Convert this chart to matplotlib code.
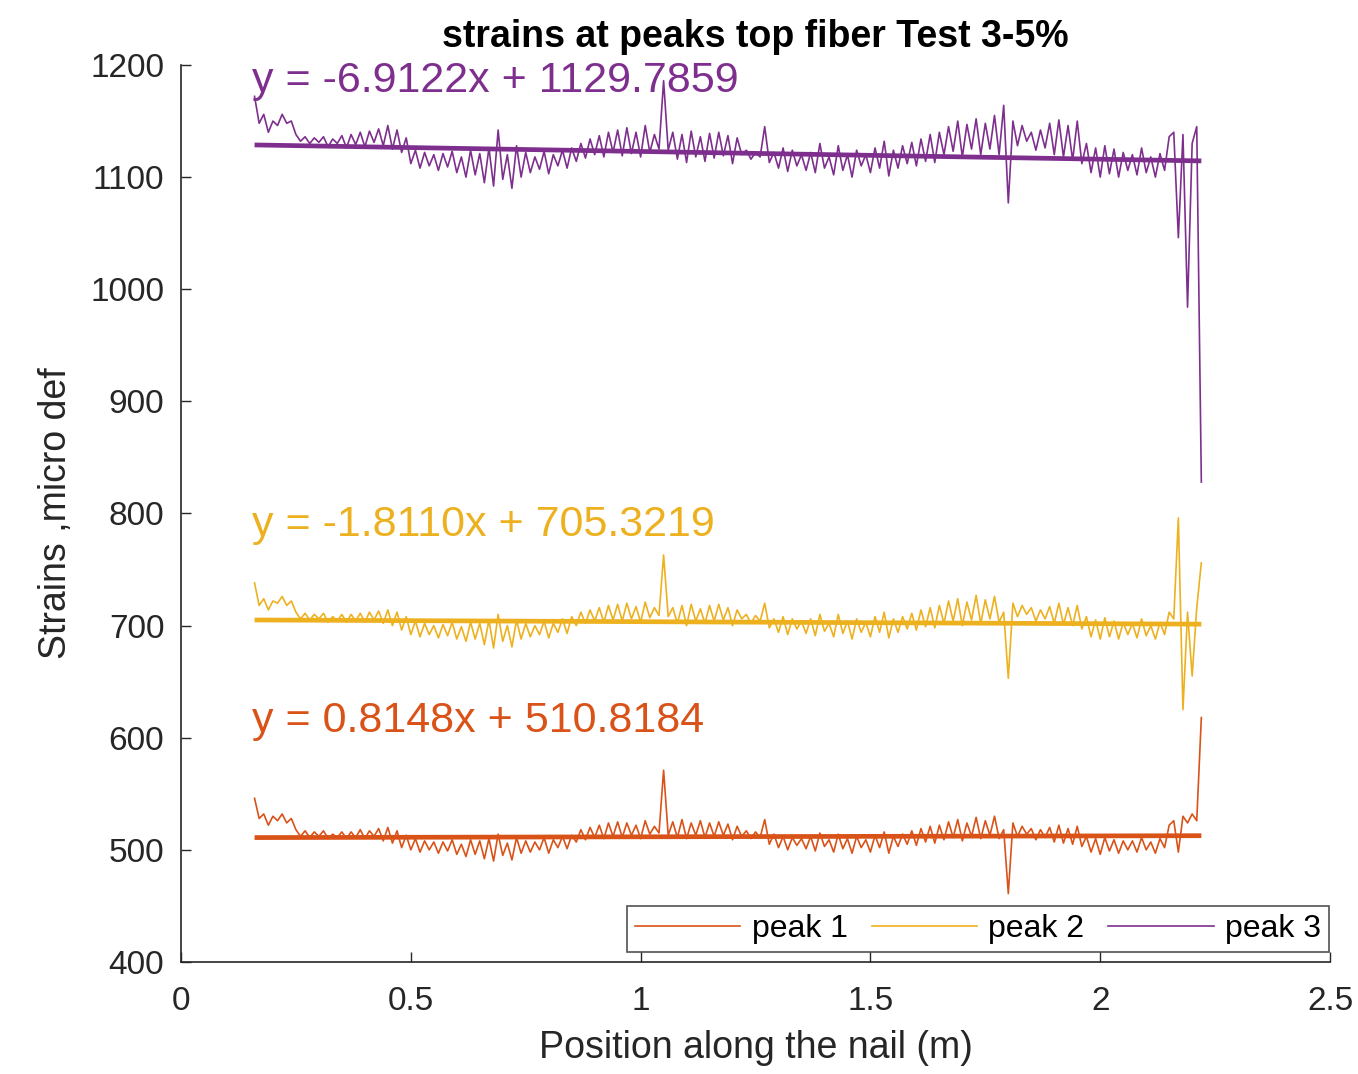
import numpy as np
import matplotlib.pyplot as plt

plt.rcParams['font.family'] = ['Liberation Sans', 'DejaVu Sans']

# strain readings along the fiber, one value every 1 cm from 0.16 m to 2.22 m
peak1 = [
    546, 528, 532, 522, 530, 526, 532, 524, 528, 518,
    512, 517, 511, 516, 512, 517, 510, 514, 511, 516,
    510, 516, 511, 518, 510, 517, 512, 519, 508, 520,
    506, 517, 502, 513, 500, 510, 498, 508, 500, 507,
    497, 507, 499, 509, 496, 505, 494, 509, 496, 508,
    492, 510, 490, 514, 495, 506, 491, 511, 497, 508,
    498, 507, 500, 511, 497, 509, 502, 512, 501, 513,
    507, 518, 509, 520, 511, 522, 510, 524, 512, 525,
    511, 524, 513, 522, 510, 526, 514, 521, 515, 571,
    513, 525, 511, 527, 510, 524, 513, 526, 511, 524,
    512, 525, 513, 523, 509, 521, 512, 517, 510, 516,
    511, 527, 505, 514, 502, 512, 500, 511, 504, 510,
    501, 512, 499, 515, 503, 509, 498, 514, 501, 510,
    497, 512, 502, 509, 498, 513, 502, 516, 497, 512,
    503, 514, 505, 517, 504, 519, 507, 521, 506, 522,
    509, 525, 511, 527, 508, 524, 512, 529, 510, 526,
    513, 530, 510, 518, 461, 524, 512, 521, 514, 519,
    509, 518, 511, 520, 507, 522, 506, 519, 505, 521,
    503, 512, 498, 510, 496, 511, 499, 509, 497, 508,
    500, 508, 498, 511, 500, 507, 497, 510, 502, 522,
    526, 498, 530, 524, 532, 526, 618,
]
peak2 = [
    738, 718, 724, 714, 722, 720, 726, 718, 722, 712,
    706, 711, 705, 710, 706, 711, 703, 708, 704, 710,
    703, 710, 704, 711, 703, 712, 705, 713, 702, 714,
    700, 712, 696, 708, 692, 704, 690, 702, 692, 700,
    689, 701, 691, 703, 688, 699, 686, 703, 688, 702,
    683, 705, 680, 710, 686, 700, 681, 705, 688, 702,
    690, 700, 692, 704, 689, 702, 694, 706, 693, 708,
    700, 712, 702, 714, 704, 716, 703, 718, 705, 719,
    704, 720, 706, 717, 703, 721, 707, 716, 709, 763,
    708, 716, 702, 718, 700, 719, 704, 715, 702, 718,
    704, 719, 705, 716, 700, 714, 706, 710, 702, 709,
    704, 720, 698, 706, 694, 708, 692, 706, 697, 704,
    693, 706, 691, 710, 695, 702, 690, 710, 693, 704,
    688, 706, 694, 703, 690, 708, 694, 712, 689, 706,
    694, 708, 697, 711, 696, 714, 699, 716, 698, 718,
    702, 722, 704, 724, 700, 721, 705, 727, 702, 723,
    706, 726, 703, 712, 653, 720, 708, 718, 710, 716,
    704, 714, 706, 717, 702, 720, 701, 716, 700, 718,
    697, 708, 690, 705, 688, 707, 690, 704, 688, 703,
    692, 702, 689, 706, 691, 700, 688, 703, 692, 712,
    706, 796, 625, 712, 655, 716, 756,
]
peak3 = [
    1172, 1148, 1156, 1140, 1150, 1146, 1156, 1148, 1150, 1138,
    1132, 1136, 1130, 1135, 1131, 1136, 1127, 1134, 1130, 1137,
    1126, 1138, 1129, 1140, 1127, 1141, 1131, 1143, 1128, 1146,
    1125, 1142, 1122, 1135, 1112, 1124, 1108, 1122, 1110, 1120,
    1106, 1121, 1109, 1123, 1104, 1118, 1100, 1124, 1102, 1121,
    1095, 1126, 1092, 1142, 1098, 1120, 1090, 1128, 1100, 1122,
    1104, 1118, 1107, 1123, 1103, 1120, 1110, 1124, 1108, 1126,
    1114, 1130, 1117, 1134, 1120, 1137, 1118, 1140, 1122, 1142,
    1119, 1144, 1121, 1140, 1118, 1146, 1122, 1138, 1125, 1186,
    1124, 1140, 1116, 1138, 1113, 1141, 1118, 1136, 1114, 1139,
    1117, 1140, 1119, 1137, 1112, 1135, 1120, 1124, 1116, 1122,
    1118, 1145, 1113, 1122, 1108, 1126, 1105, 1124, 1110, 1120,
    1106, 1122, 1104, 1130, 1108, 1118, 1102, 1128, 1106, 1120,
    1100, 1124, 1110, 1120, 1104, 1126, 1108, 1132, 1101, 1124,
    1108, 1128, 1112, 1131, 1110, 1134, 1114, 1138, 1113, 1140,
    1120, 1145, 1123, 1150, 1118, 1147, 1125, 1152, 1120, 1148,
    1125, 1155, 1120, 1164, 1077, 1150, 1128, 1146, 1132, 1140,
    1124, 1142, 1126, 1148, 1120, 1151, 1118, 1146, 1115, 1150,
    1112, 1130, 1104, 1126, 1100, 1128, 1103, 1125, 1100, 1122,
    1106, 1120, 1102, 1126, 1104, 1118, 1100, 1121, 1106, 1136,
    1140, 1046, 1138, 984, 1130, 1145, 828,
]
position = np.linspace(0.16, 2.22, len(peak1))

labels = ['peak 1', 'peak 2', 'peak 3']
colors = ['#D95319', '#EDB120', '#7E2F8E']
# linear fit coefficients (slope, intercept) for each peak
slopes = [0.8148, -1.8110, -6.9122]
intercepts = [510.8184, 705.3219, 1129.7859]
eq_y = [615, 790, 1186]

fig = plt.figure(figsize=(13.58, 10.74), dpi=100)
ax = fig.add_axes([0.1333, 0.1043, 0.8461, 0.8352])

for vals, lab, col in zip([peak1, peak2, peak3], labels, colors):
    ax.plot(position, vals, color=col, lw=1.2, label=lab)

for m, b, col, ty in zip(slopes, intercepts, colors, eq_y):
    xf = np.array([position[0], position[-1]])
    ax.plot(xf, m * xf + b, color=col, lw=3.4, solid_capstyle='butt')
    sign = '+' if b >= 0 else '-'
    ax.text(0.155, ty, f'y = {m:.4f}x {sign} {abs(b):.4f}', color=col,
            fontsize=31, va='center', ha='left')

ax.set_xlim(0, 2.5)
ax.set_ylim(400, 1200)
ax.set_xticks([0, 0.5, 1, 1.5, 2, 2.5])
ax.set_xticklabels(['0', '0.5', '1', '1.5', '2', '2.5'])
ax.set_yticks(np.arange(400, 1201, 100))

for side in ['top', 'right']:
    ax.spines[side].set_visible(False)
for side in ['left', 'bottom']:
    ax.spines[side].set_color('#262626')
    ax.spines[side].set_linewidth(1.2)
ax.tick_params(direction='in', length=7, width=1.0, colors='#262626',
               labelsize=24)
ax.tick_params(axis='x', pad=17)
ax.tick_params(axis='y', pad=12)

ax.set_title('strains at peaks top fiber Test 3-5%', fontsize=27,
             fontweight='bold', pad=13)
ax.set_xlabel('Position along the nail (m)', fontsize=27, color='#262626', labelpad=10)
ax.set_ylabel('Strains ,micro def', fontsize=27, color='#262626', labelpad=12)

leg = ax.legend(loc='lower right', ncol=3, fontsize=23, handlelength=3.3,
                columnspacing=0.75, handletextpad=0.35, borderpad=0.25,
                borderaxespad=0.0, frameon=True, fancybox=False,
                edgecolor='#262626', bbox_to_anchor=(0.999, 0.011))
leg.get_frame().set_linewidth(1.2)

fig.savefig('out.png', dpi=100)
